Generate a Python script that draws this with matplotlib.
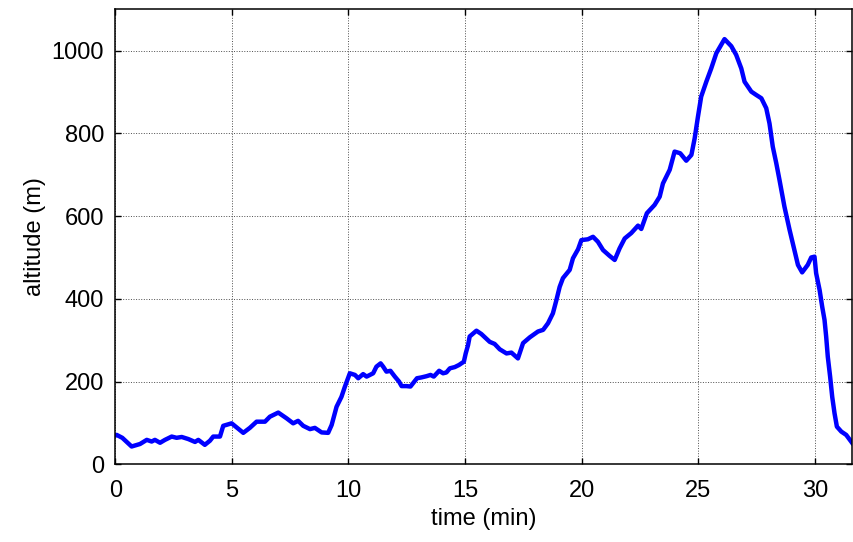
import matplotlib
matplotlib.use("Agg")
import matplotlib.pyplot as plt

plt.rcParams['font.family'] = ['Liberation Sans', 'DejaVu Sans']

# flight altitude profile
time_min = [0.00, 0.06, 0.30, 0.70, 1.06, 1.35, 1.56, 1.70, 1.92, 2.13, 2.42, 2.63,
            2.85, 3.13, 3.42, 3.56, 3.84, 4.06, 4.20, 4.49, 4.63, 4.99, 5.49, 5.77,
            6.06, 6.42, 6.63, 6.99, 7.35, 7.63, 7.84, 8.06, 8.35, 8.56, 8.85, 9.13,
            9.28, 9.49, 9.70, 9.85, 10.06, 10.28, 10.42, 10.63, 10.78, 11.06, 11.20,
            11.38, 11.49, 11.63, 11.80, 11.99, 12.17, 12.28, 12.49, 12.66, 12.77,
            12.94, 13.13, 13.35, 13.52, 13.66, 13.89, 14.06, 14.20, 14.35, 14.56,
            14.74, 14.95, 15.03, 15.13, 15.20, 15.49, 15.70, 16.06, 16.27, 16.49,
            16.78, 16.99, 17.27, 17.49, 17.78, 18.13, 18.35, 18.56, 18.77, 18.92,
            19.06, 19.20, 19.49, 19.63, 19.85, 19.99, 20.27, 20.49, 20.70, 20.92,
            21.20, 21.42, 21.63, 21.85, 22.13, 22.42, 22.56, 22.80, 23.13, 23.35,
            23.49, 23.78, 23.99, 24.23, 24.49, 24.71, 24.85, 24.99, 25.13, 25.35,
            25.56, 25.78, 26.13, 26.42, 26.63, 26.85, 26.99, 27.28, 27.49, 27.71,
            27.92, 28.06, 28.20, 28.35, 28.49, 28.70, 28.92, 29.13, 29.28, 29.46,
            29.70, 29.85, 29.99, 30.06, 30.21, 30.32, 30.42, 30.49, 30.56, 30.66,
            30.75, 30.85, 30.95, 31.14, 31.35, 31.56, 31.60]
altitude_m = [70, 71, 64, 43, 49, 59, 55, 59, 52, 59, 67, 64,
              66, 61, 54, 59, 47, 57, 67, 67, 93, 99, 76, 88,
              103, 103, 115, 125, 111, 99, 105, 93, 85, 88, 77, 76,
              95, 139, 163, 188, 220, 216, 208, 218, 212, 220, 236,
              244, 236, 224, 226, 212, 200, 189, 189, 188, 196,
              208, 210, 213, 216, 212, 226, 220, 222, 232, 235,
              240, 248, 268, 288, 309, 323, 315, 296, 291, 278,
              268, 270, 256, 293, 307, 321, 325, 341, 365, 397,
              429, 450, 470, 498, 520, 542, 544, 550, 538, 518,
              504, 494, 522, 546, 559, 577, 569, 607, 627, 647,
              679, 712, 756, 752, 734, 748, 788, 840, 889, 925,
              957, 994, 1028, 1011, 990, 957, 925, 901, 893, 885,
              861, 824, 768, 728, 687, 623, 567, 518, 482, 464,
              482, 500, 502, 462, 421, 381, 349, 309, 260, 212,
              163, 123, 91, 79, 71, 55, 52]

x_ticks = [0, 5, 10, 15, 20, 25, 30]
y_ticks = [0, 200, 400, 600, 800, 1000]

fig = plt.figure(figsize=(8.54, 5.42), dpi=100)
ax = fig.add_axes([0.135, 0.1434, 0.8627, 0.8394])

ax.plot(time_min, altitude_m, color=(0, 0, 1), linewidth=3.2, solid_joinstyle='round')

ax.set_xlim(0, 31.6)
ax.set_ylim(0, 1100)
ax.set_xticks(x_ticks)
ax.set_yticks(y_ticks)
ax.grid(True, color='0.3', linestyle=':', linewidth=0.7)
ax.set_axisbelow(True)

ax.tick_params(direction='in', length=4, width=1, top=True, right=True,
               labelsize=17)
ax.tick_params(axis='y', pad=8)
ax.tick_params(axis='x', pad=11)
for s in ax.spines.values():
    s.set_linewidth(1.1)

ax.set_xlabel('time (min)', fontsize=17, labelpad=5)
ax.set_ylabel('altitude (m)', fontsize=17, labelpad=4)

fig.savefig('out.png', dpi=100)
